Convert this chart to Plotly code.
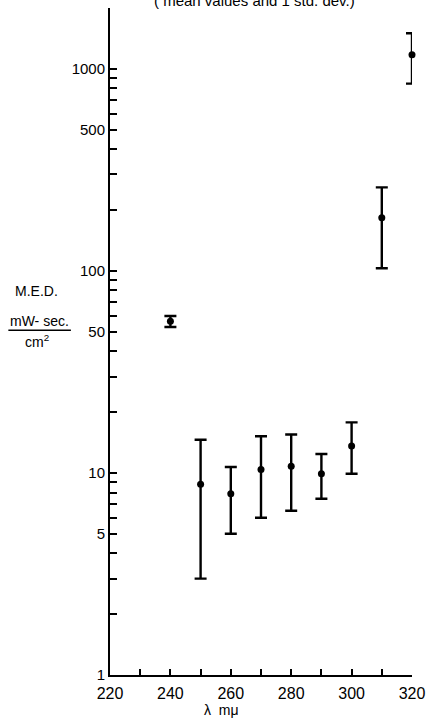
import plotly.graph_objects as go

# Data
wavelength = [240, 250, 260, 270, 280, 290, 300, 310, 320]
med_mean = [56.3, 8.8, 7.9, 10.4, 10.8, 9.9, 13.6, 183, 1175]
med_upper = [59.8, 14.6, 10.7, 15.2, 15.5, 12.4, 17.8, 259, 1500]
med_lower = [52.8, 3.0, 5.0, 6.0, 6.5, 7.45, 9.9, 103, 845]

y_tickvals = [1, 2, 3, 4, 5, 6, 7, 8, 9,
              10, 20, 30, 40, 50, 60, 70, 80, 90,
              100, 200, 300, 400, 500, 600, 700, 800, 900,
              1000, 2000]
y_labels = {1: "1", 5: "5", 10: "10", 50: "50", 100: "100", 500: "500", 1000: "1000"}
y_ticktext = [y_labels.get(v, "") for v in y_tickvals]

x_tickvals = [220, 230, 240, 250, 260, 270, 280, 290, 300, 310, 320]
x_ticktext = [str(v) if v % 20 == 0 else "" for v in x_tickvals]

err_plus = [u - m for u, m in zip(med_upper, med_mean)]
err_minus = [m - l for m, l in zip(med_mean, med_lower)]

W, H = 433, 718
L, R, T, B = 110, 14, 7.5, 43
pw, ph = W - L - R, H - T - B

def px_x(px):
    return (px - L) / pw

def px_y(py):
    return (H - B - py) / ph

FONT = "Liberation Sans, Arial, sans-serif"

fig = go.Figure()
fig.add_trace(go.Scatter(
    x=wavelength, y=med_mean, mode="markers",
    marker=dict(color="black", size=7),
    error_y=dict(type="data", symmetric=False, array=err_plus, arrayminus=err_minus,
                 color="black", thickness=2.4, width=6),
    cliponaxis=False,
    showlegend=False,
))

fig.update_layout(
    width=W, height=H,
    margin=dict(l=L, r=R, t=T, b=B),
    paper_bgcolor="white", plot_bgcolor="white",
    font=dict(family=FONT, size=15, color="black"),
    xaxis=dict(range=[220, 320], tickmode="array", tickvals=x_tickvals, ticktext=x_ticktext,
               ticks="inside", ticklen=6, tickwidth=2, tickcolor="black",
               showline=True, linewidth=2, linecolor="black", showgrid=False, zeroline=False,
               tickfont=dict(size=16), ticklabelstandoff=3, fixedrange=True),
    yaxis=dict(type="log", range=[0, 3.30103], tickmode="array", tickvals=y_tickvals,
               ticktext=y_ticktext, ticks="inside", ticklen=7, tickwidth=2, tickcolor="black",
               showline=True, linewidth=2, linecolor="black", showgrid=False, zeroline=False,
               tickfont=dict(size=15), fixedrange=True),
)

# x-axis title
fig.add_annotation(text="λ  mμ", xref="paper", yref="paper", x=px_x(224), y=px_y(710),
                   showarrow=False, font=dict(size=14), xanchor="center", yanchor="middle")

# y-axis title (M.E.D. in mW-sec./cm²)
fig.add_annotation(text="M.E.D.", xref="paper", yref="paper", x=px_x(35), y=px_y(291),
                   showarrow=False, font=dict(size=14), xanchor="center", yanchor="middle")
fig.add_annotation(text="mW- sec.", xref="paper", yref="paper", x=px_x(38), y=px_y(321),
                   showarrow=False, font=dict(size=14), xanchor="center", yanchor="middle")
fig.add_annotation(text="cm<sup>2</sup>", xref="paper", yref="paper", x=px_x(35), y=px_y(341),
                   showarrow=False, font=dict(size=14), xanchor="center", yanchor="middle")
fig.add_shape(type="line", xref="paper", yref="paper",
              x0=px_x(6), x1=px_x(70), y0=px_y(330), y1=px_y(330),
              line=dict(color="black", width=1.5))

# title (cut off at top in the reference)
fig.add_annotation(text="( mean values and 1 std. dev.)", xref="paper", yref="paper",
                   x=px_x(258), y=px_y(0), showarrow=False, font=dict(size=15),
                   xanchor="center", yanchor="middle")

fig.write_html("out.html")
